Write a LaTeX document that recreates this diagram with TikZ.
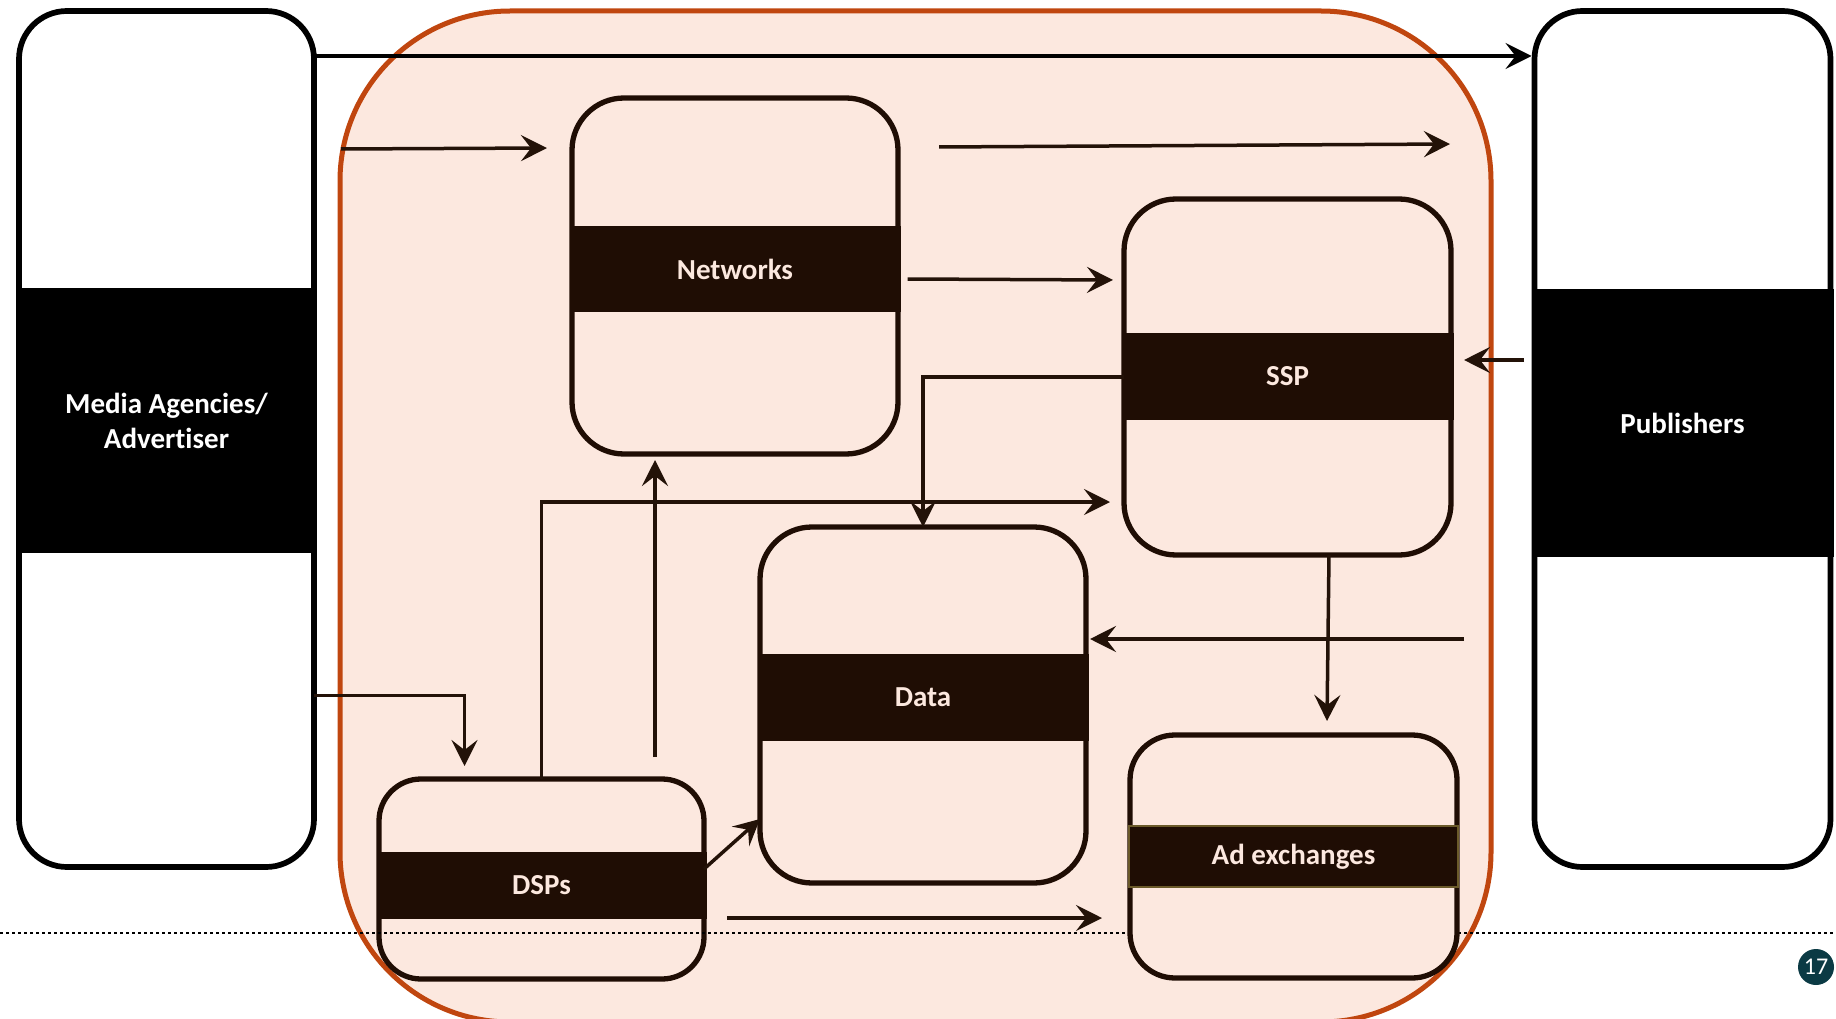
\documentclass[tikz,border=0pt]{standalone}
\usepackage{fontspec}
\setmainfont{Carlito}[Ligatures=NoCommon]
\usetikzlibrary{arrows.meta}
\definecolor{brd}{HTML}{1F0D04}
\definecolor{peach}{HTML}{FCE8DF}
\definecolor{rust}{HTML}{C0460F}
\definecolor{arrc}{HTML}{231208}
\definecolor{badgec}{HTML}{0B3A44}
\definecolor{olive}{HTML}{6B5A2A}
\begin{document}
\begin{tikzpicture}[x=1pt,y=1pt,
  outerbox/.style={draw=black, fill=white, line width=5.7pt, rounded corners=48pt, inner sep=0pt, outer sep=0pt},
  inbox/.style={draw=brd, fill=peach, line width=5.3pt, inner sep=0pt, outer sep=0pt},
  bandtext/.style={inner sep=0pt, outer sep=0pt, font=\bfseries\fontsize{29}{35}\selectfont, align=center},
  band/.style={bandtext, fill=brd, text=peach},
  bandk/.style={bandtext, fill=black, text=white},
  conn/.style={draw=arrc, line width=3.5pt, -{Stealth[length=26pt,width=26pt,inset=10pt]}},
  dotline/.style={draw=black, line width=2.5pt, dash pattern=on 2.5pt off 3.5pt},
]
\useasboundingbox (0,0) rectangle (1836,-1019);
\begin{scope}
\clip (0,0) rectangle (1836,-1019);
\node[draw=rust, fill=peach, line width=5pt, rounded corners=170pt, minimum width=1151pt, minimum height=1011pt, inner sep=0pt, outer sep=0pt] (eco) at (915.5,-516.5) {};
\end{scope}

% outer boxes
\node[outerbox, minimum width=295pt, minimum height=856pt] (media) at (166.5,-439) {};
\node[bandk, minimum width=301pt, minimum height=265pt] (mediab) at (166.5,-420.5) {Media Agencies/\\Advertiser};
\node[outerbox, minimum width=296pt, minimum height=856pt] (pub) at (1682.5,-439) {};
\node[bandk, minimum width=302pt, minimum height=268pt] (pubb) at (1682.5,-423) {Publishers};

% DSPs (under the dotted line)
\node[inbox, rounded corners=42pt, minimum width=325pt, minimum height=200pt] (dsp) at (541.5,-879) {};
\node[band, minimum width=330pt, minimum height=67pt] (dspb) at (541.5,-885.5) {DSPs};

% dotted line
\coordinate (dl) at (0,-933);
\coordinate (dr) at (1836,-933);
\draw[dotline] (dl) -- (dr);

% inner boxes
\node[inbox, rounded corners=52pt, minimum width=326pt, minimum height=356pt] (net) at (735,-276) {};
\node[band, minimum width=331pt, minimum height=86pt] (netb) at (735,-269) {Networks};
\node[inbox, rounded corners=52pt, minimum width=327pt, minimum height=356pt] (ssp) at (1287.5,-377) {};
\node[band, minimum width=332pt, minimum height=87pt] (sspb) at (1287.5,-376.5) {SSP};
\node[inbox, rounded corners=52pt, minimum width=326pt, minimum height=356pt] (data) at (923,-705) {};
\node[band, minimum width=331pt, minimum height=87pt] (datab) at (923,-697) {Data};
\node[inbox, rounded corners=45pt, minimum width=327pt, minimum height=243pt] (adx) at (1293.5,-856.5) {};
\node[band, draw=olive, line width=1.5pt, minimum width=329pt, minimum height=61pt] (adxb) at (1293.5,-856.5) {Ad exchanges};

% free ends
\coordinate (c2a) at (341,-149);
\coordinate (c2b) at (547,-148);
\coordinate (c3a) at (939,-147);
\coordinate (c3b) at (1450,-144);
\coordinate (c4a) at (907.5,-279);
\coordinate (c4b) at (1113,-280);
\coordinate (c5a) at (1524,-360);
\coordinate (c5b) at (1464,-360);
\coordinate (c7) at (1110,-502);
\coordinate (c8) at (655,-757);
\coordinate (c10) at (1464,-639);
\coordinate (c11) at (1327,-721);
\coordinate (c13a) at (727,-918);
\coordinate (c13b) at (1102,-918);

% connectors
\draw[conn, draw=black, shorten >=3pt] ([yshift=-45pt]media.north east) -- ([yshift=-45pt]pub.north west);
\draw[conn] (c2a) -- (c2b);
\draw[conn] (c3a) -- (c3b);
\draw[conn] (c4a) -- (c4b);
\draw[conn] (c5a) -- (c5b);
\draw[conn] (ssp.west) -| (data.north);
\draw[conn] (dsp.north) |- (c7);
\draw[conn] (c8) -- ([xshift=-80pt,yshift=-6pt]net.south);
\draw[conn, shorten >=13pt] ([yshift=-256.5pt]media.east) -| ([xshift=-77pt]dsp.north);
\draw[conn] (c10) -- ([yshift=66pt,xshift=4pt]data.east);
\draw[conn] ([xshift=41.5pt]ssp.south) -- (c11);
\draw[conn] ([yshift=10pt]dsp.east) -- ([yshift=-114pt]data.west);
\draw[conn] (c13a) -- (c13b);

% page badge
\node[circle, fill=badgec, minimum size=36pt, inner sep=0pt, text=white, font=\fontsize{24}{24}\selectfont] (badge) at (1816,-967) {17};
\end{tikzpicture}
\end{document}
